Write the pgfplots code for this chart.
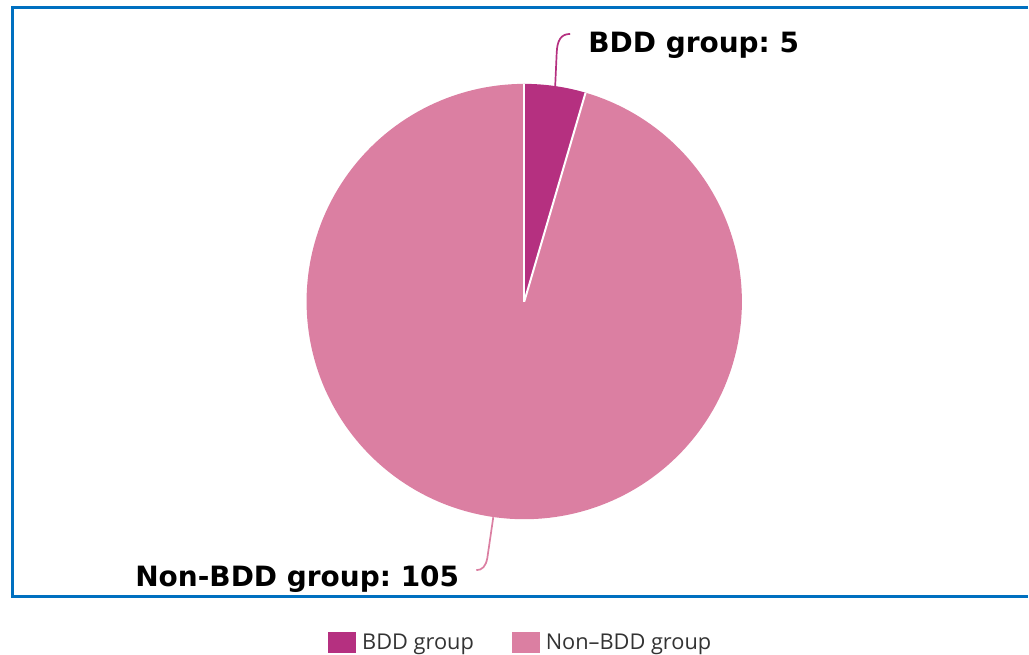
\documentclass[border=0pt]{standalone}
\usepackage{pgfplots}
\pgfplotsset{compat=1.18}
\usepackage{fontspec}
\setmainfont{DejaVu Sans}
\newfontfamily\legfont{Open Sans}
\definecolor{bddc}{HTML}{B53080}
\definecolor{nonc}{HTML}{DB7FA2}
\definecolor{framec}{HTML}{0070C0}
\definecolor{legtext}{HTML}{333333}
\frenchspacing
\begin{document}
\begin{tikzpicture}
\pgfmathsetmacro\vA{5}
\pgfmathsetmacro\vB{105}
\pgfmathsetmacro\tot{\vA+\vB}
\pgfmathsetmacro\aB{90-360*\vA/\tot}
\pgfmathsetmacro\aE{90-360}
\begin{axis}[
  hide axis, scale only axis,
  width=1029pt, height=655pt,
  xmin=0, xmax=1029, ymin=0, ymax=655,
  clip=false,
  legend columns=2,
  legend style={at={(axis cs:521.5,12)}, anchor=center, draw=none, fill=none,
    font=\legfont\fontsize{21.8}{24}\selectfont\color{legtext},
    /tikz/every odd column/.append style={column sep=4pt},
    /tikz/every even column/.append style={column sep=36pt},
    inner sep=0pt},
  legend image code/.code={\fill[#1] (0pt,-10.5pt) rectangle (28pt,10.5pt);},
]
\path (axis cs:0,0) rectangle (axis cs:1029,655);
\addplot[fill=bddc, draw=none, domain=\aB:90, samples=40, variable=\t]
  ({525+218*cos(\t)}, {353+218*sin(\t)}) -- (axis cs:525,353) -- cycle;
\addlegendentry{BDD group}
\addplot[fill=nonc, draw=none, domain=\aE:\aB, samples=200, variable=\t]
  ({525+218*cos(\t)}, {353+218*sin(\t)}) -- (axis cs:525,353) -- cycle;
\addlegendentry{Non–BDD group}
\draw[white, line width=2pt] (axis cs:525,353) -- (axis cs:525,571);
\draw[white, line width=2pt] (axis cs:525,353) -- (axis cs:{525+218*cos(\aB)},{353+218*sin(\aB)});
% leader lines
\draw[bddc, line width=1.7pt] (axis cs:556,569) -- (axis cs:557.5,602) .. controls (axis cs:558,615) and (axis cs:562,621) .. (axis cs:571,621);
\draw[nonc, line width=1.7pt] (axis cs:494,137) -- (axis cs:488,96) .. controls (axis cs:486.5,88) and (axis cs:483,84) .. (axis cs:477,84);
\node[anchor=base west, inner sep=0pt, font=\bfseries\fontsize{28}{30}\selectfont] at (axis cs:589,602) {BDD group: 5};
\node[anchor=base east, inner sep=0pt, font=\bfseries\fontsize{28}{30}\selectfont] at (axis cs:460,68) {Non-BDD group: 105};
% frame
\draw[framec, line width=3pt] (axis cs:1029,647) -- (axis cs:12.5,647) -- (axis cs:12.5,58) -- (axis cs:1029,58);
\end{axis}
\end{tikzpicture}
\end{document}
